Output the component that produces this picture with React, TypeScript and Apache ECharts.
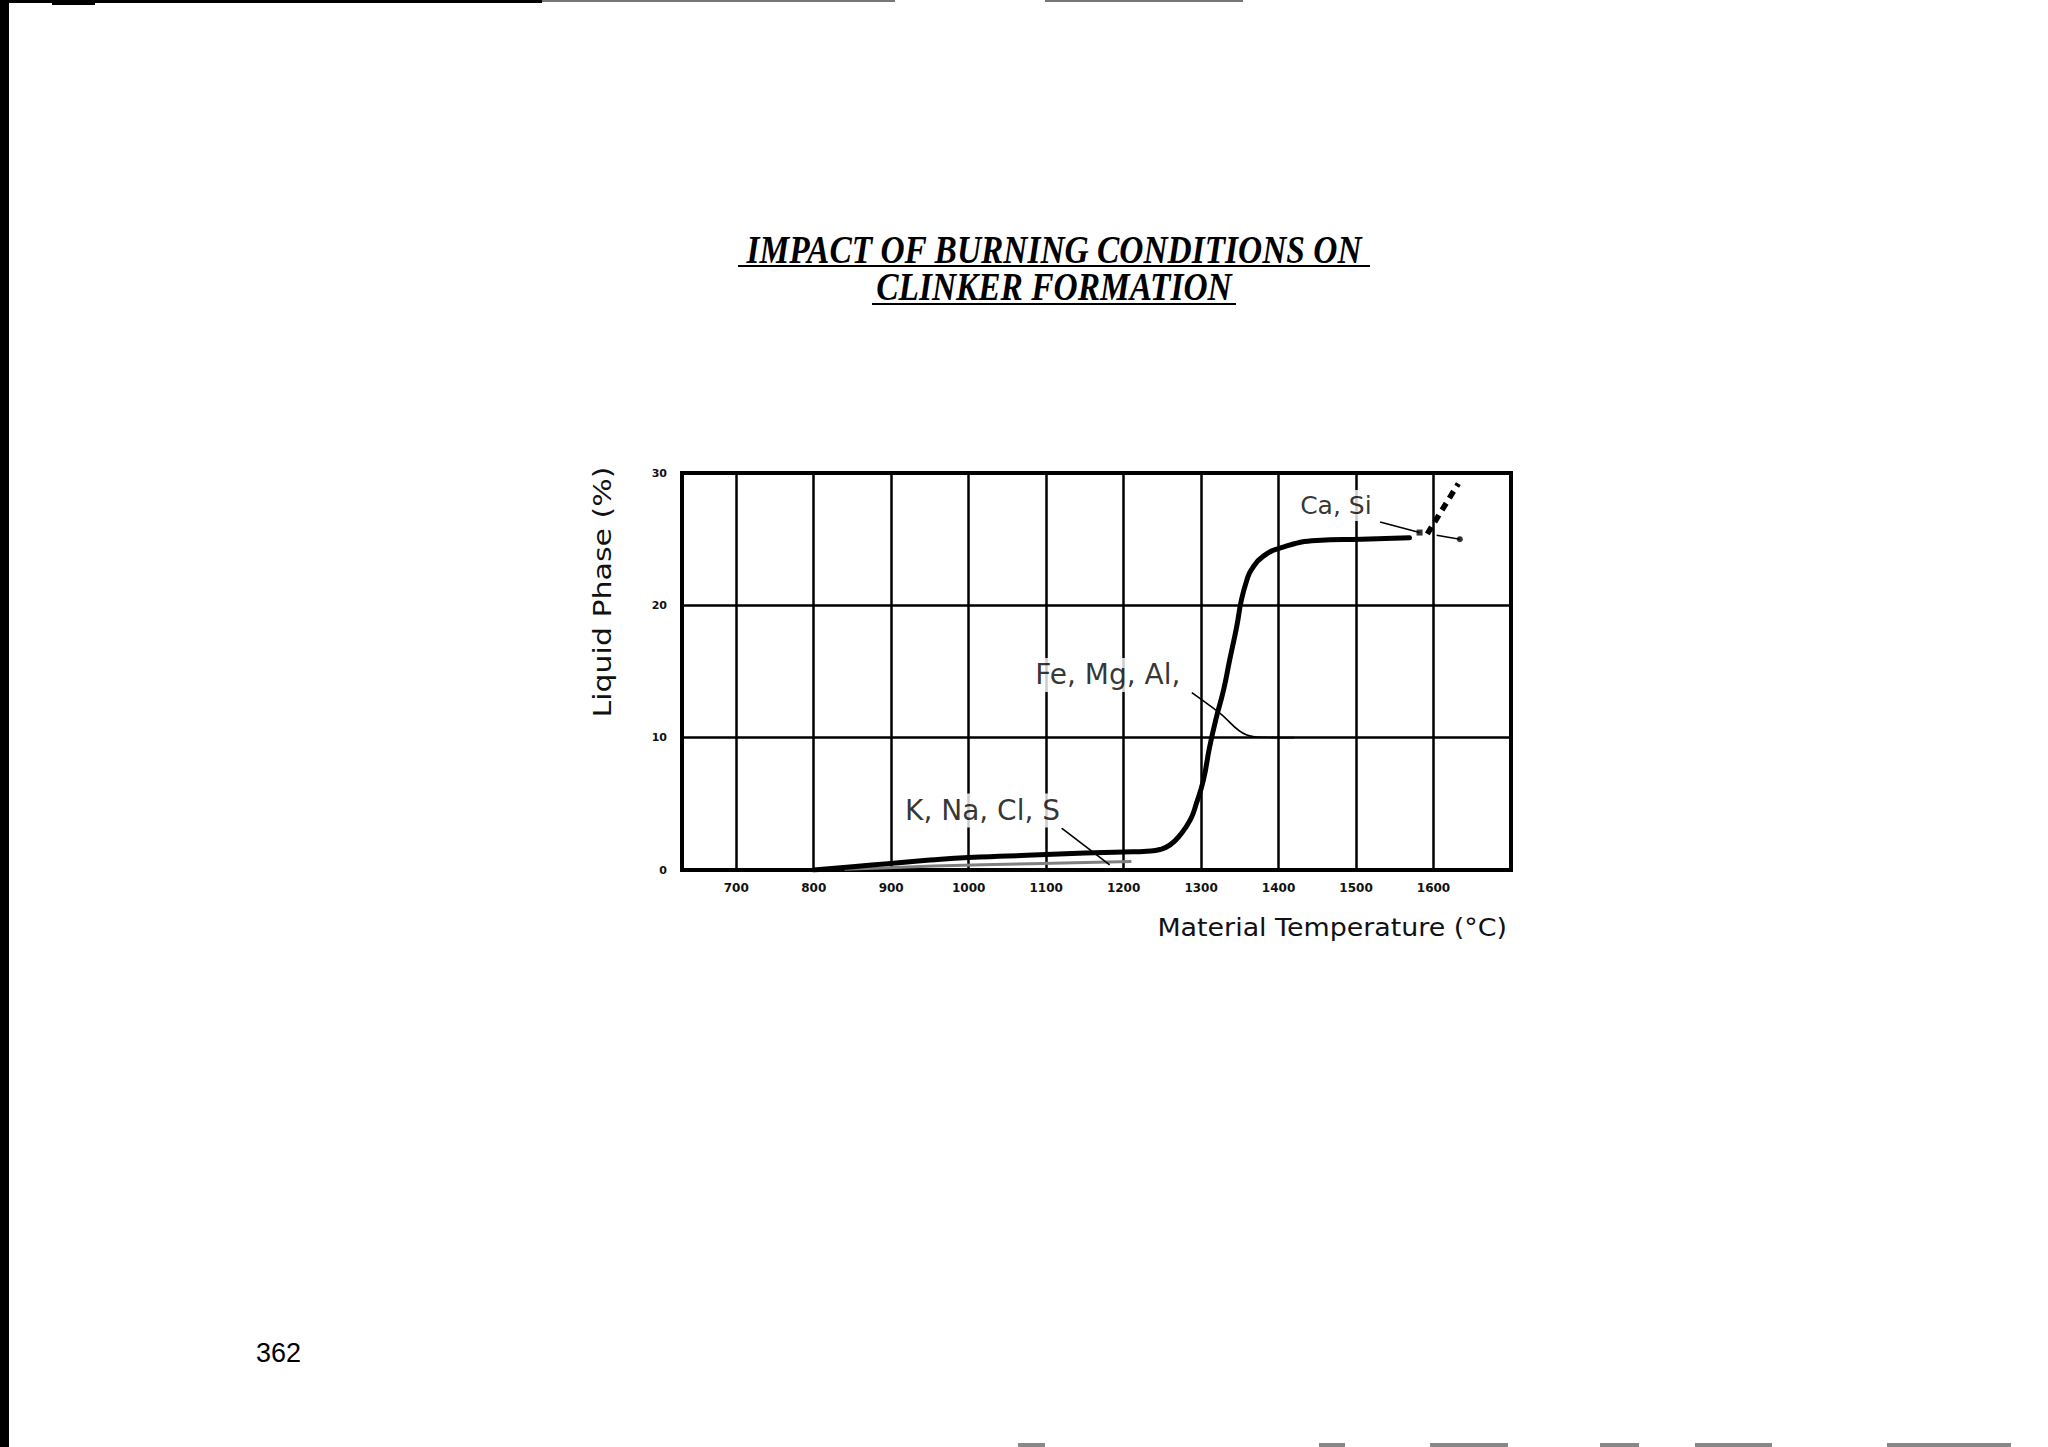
import React, { useEffect, useRef } from 'react';
import * as echarts from 'echarts';

// ---- data ----
const xTickValues = [700, 800, 900, 1000, 1100, 1200, 1300, 1400, 1500, 1600];
const yTickValues = [0, 10, 20, 30];

const mainTemps = [800, 850, 900, 950, 1000, 1050, 1100, 1150, 1200, 1230, 1247, 1260, 1273, 1286, 1294, 1303, 1311, 1320, 1329, 1337, 1346, 1352, 1359, 1365, 1380, 1406, 1449, 1507, 1569];
const mainLiquid = [0, 0.25, 0.5, 0.75, 0.95, 1.05, 1.18, 1.28, 1.36, 1.42, 1.55, 1.9, 2.65, 3.78, 5.04, 6.8, 9.3, 11.6, 13.6, 15.9, 18.4, 20.4, 21.9, 22.7, 23.7, 24.4, 24.9, 25.0, 25.1];

const lowerTemps = [840, 955, 1080, 1210];
const lowerLiquid = [0.05, 0.3, 0.48, 0.65];

const extTemps = [1592, 1612, 1632];
const extLiquid = [25.4, 27.3, 29.2];

const labelNames = ['K, Na, Cl, S', 'Fe, Mg, Al,', 'Ca, Si'];
const labelTemps = [914, 1082, 1424];
const labelLiquid = [4.5, 14.74, 27.55];
const labelSizes = [28, 28, 25];

const leaderKTemps = [1120, 1182];
const leaderKLiquid = [3.17, 0.38];
const leaderFeTemps = [1288, 1324, 1359, 1382, 1420];
const leaderFeLiquid = [13.4, 11.86, 10.2, 10.03, 10.0];
const leaderCaATemps = [1531, 1582];
const leaderCaALiquid = [26.3, 25.5];
const leaderCaBTemps = [1604, 1634];
const leaderCaBLiquid = [25.3, 25.0];
const markerTemps = [1582, 1634];
const markerLiquid = [25.5, 25.0];
const markerSymbols = ['rect', 'circle'];

const zip = (a: number[], b: number[]) => a.map((v, i) => [v, b[i]]);

const leaderStyle = { color: '#000', width: 1.6 };

export default function App() {
  const ref = useRef<HTMLDivElement>(null);
  useEffect(() => {
    document.body.style.margin = '0';
    const chart = echarts.init(ref.current!, null, { renderer: 'svg' });
    const option: any = {
      animation: false,
      backgroundColor: '#fff',
      grid: {
        left: 682, right: 537, top: 473, bottom: 577,
        show: true, borderColor: '#000', borderWidth: 4, backgroundColor: 'transparent',
      },
      xAxis: {
        type: 'value', min: 630, max: 1700,
        axisLine: { show: false },
        axisTick: { show: false, customValues: xTickValues },
        axisLabel: {
          customValues: xTickValues, margin: 12, color: '#111',
          formatter: (v: number) => String(v),
          fontFamily: 'DejaVu Sans', fontWeight: 'bold', fontSize: 12,
        },
        splitLine: { show: true, lineStyle: { color: '#000', width: 2.5 } },
      },
      yAxis: {
        type: 'value', min: yTickValues[0], max: yTickValues[yTickValues.length - 1], interval: 10,
        axisLine: { show: false },
        axisTick: { show: false },
        axisLabel: {
          margin: 15, color: '#111',
          fontFamily: 'DejaVu Sans', fontWeight: 'bold', fontSize: 11,
        },
        splitLine: { show: true, lineStyle: { color: '#000', width: 2.5 } },
      },
      series: [
        {
          type: 'line', name: 'lower trace', data: zip(lowerTemps, lowerLiquid),
          symbol: 'none', smooth: 0.3, lineStyle: { color: '#808080', width: 3 }, z: 2,
        },
        {
          type: 'line', name: 'Liquid Phase', data: zip(mainTemps, mainLiquid),
          symbol: 'none', smooth: 0.5,
          lineStyle: { color: '#000', width: 5, cap: 'round', join: 'round' }, z: 4,
        },
        {
          type: 'line', name: 'extension', data: zip(extTemps, extLiquid),
          symbol: 'none', lineStyle: { color: '#000', width: 5.5, type: [8, 6] }, z: 4,
        },
        {
          type: 'line', name: 'leader K', data: zip(leaderKTemps, leaderKLiquid),
          symbol: 'none', lineStyle: leaderStyle, z: 5,
        },
        {
          type: 'line', name: 'leader Fe', data: zip(leaderFeTemps, leaderFeLiquid),
          symbol: 'none', smooth: 0.4, lineStyle: leaderStyle, z: 5,
        },
        {
          type: 'line', name: 'leader Ca A', data: zip(leaderCaATemps, leaderCaALiquid),
          symbol: 'none', lineStyle: leaderStyle, z: 5,
        },
        {
          type: 'line', name: 'leader Ca B', data: zip(leaderCaBTemps, leaderCaBLiquid),
          symbol: 'none', lineStyle: leaderStyle, z: 5,
        },
        {
          type: 'scatter', name: 'markers',
          data: markerTemps.map((t, i) => ({ value: [t, markerLiquid[i]], symbol: markerSymbols[i] })),
          symbolSize: 6, itemStyle: { color: '#000' }, z: 6,
        },
        {
          type: 'scatter', name: 'labels',
          data: labelTemps.map((t, i) => ({
            value: [t, labelLiquid[i]], name: labelNames[i],
            label: { fontSize: labelSizes[i] },
          })),
          symbolSize: 0, z: 7,
          label: {
            show: true, position: 'right', distance: 0, formatter: '{b}',
            color: '#000', fontFamily: 'DejaVu Sans', fontSize: 28,
            backgroundColor: '#fff', padding: [3, 3],
          },
        },
      ],
      graphic: [
        // page scan edges
        { type: 'rect', shape: { x: 0, y: 0, width: 9, height: 1447 }, style: { fill: '#000' } },
        { type: 'rect', shape: { x: 0, y: 0, width: 542, height: 3 }, style: { fill: '#000' } },
        { type: 'rect', shape: { x: 52, y: 0, width: 43, height: 5 }, style: { fill: '#000' } },
        { type: 'rect', shape: { x: 542, y: 0, width: 353, height: 2 }, style: { fill: '#777' } },
        { type: 'rect', shape: { x: 1045, y: 0, width: 198, height: 2 }, style: { fill: '#777' } },
        ...[[1018, 27], [1319, 26], [1430, 78], [1600, 39], [1695, 77], [1887, 124]].map(([x, w]) => ({
          type: 'rect', shape: { x, y: 1443, width: w, height: 4 }, style: { fill: '#888' },
        })),
        // title
        {
          type: 'text', x: 1054, y: 249, scaleX: 0.815,
          style: {
            text: 'IMPACT OF BURNING CONDITIONS ON', fill: '#000',
            font: 'italic bold 41px "Liberation Serif"', textAlign: 'center', textVerticalAlign: 'middle',
          },
        },
        { type: 'rect', shape: { x: 738, y: 265, width: 632, height: 2 }, style: { fill: '#000' } },
        {
          type: 'text', x: 1054, y: 286, scaleX: 0.815,
          style: {
            text: 'CLINKER FORMATION', fill: '#000',
            font: 'italic bold 41px "Liberation Serif"', textAlign: 'center', textVerticalAlign: 'middle',
          },
        },
        { type: 'rect', shape: { x: 872, y: 303, width: 364, height: 2 }, style: { fill: '#000' } },
        // axis names
        {
          type: 'text', x: 602, y: 592, rotation: Math.PI / 2, scaleX: 1.2,
          style: {
            text: 'Liquid Phase (%)', fill: '#111',
            font: '25px "DejaVu Sans"', textAlign: 'center', textVerticalAlign: 'middle',
          },
        },
        {
          type: 'text', x: 1507, y: 928, scaleX: 1.12,
          style: {
            text: 'Material Temperature (°C)', fill: '#111',
            font: '24px "DejaVu Sans"', textAlign: 'right', textVerticalAlign: 'middle',
          },
        },
        // page number
        {
          type: 'text', x: 256, y: 1353,
          style: {
            text: '362', fill: '#000',
            font: '27px "Liberation Sans"', textAlign: 'left', textVerticalAlign: 'middle',
          },
        },
      ],
    };
    chart.setOption(option);
    return () => chart.dispose();
  }, []);
  return <div ref={ref} style={{ width: 2048, height: 1447, position: 'absolute', left: 0, top: 0 }} />;
}
